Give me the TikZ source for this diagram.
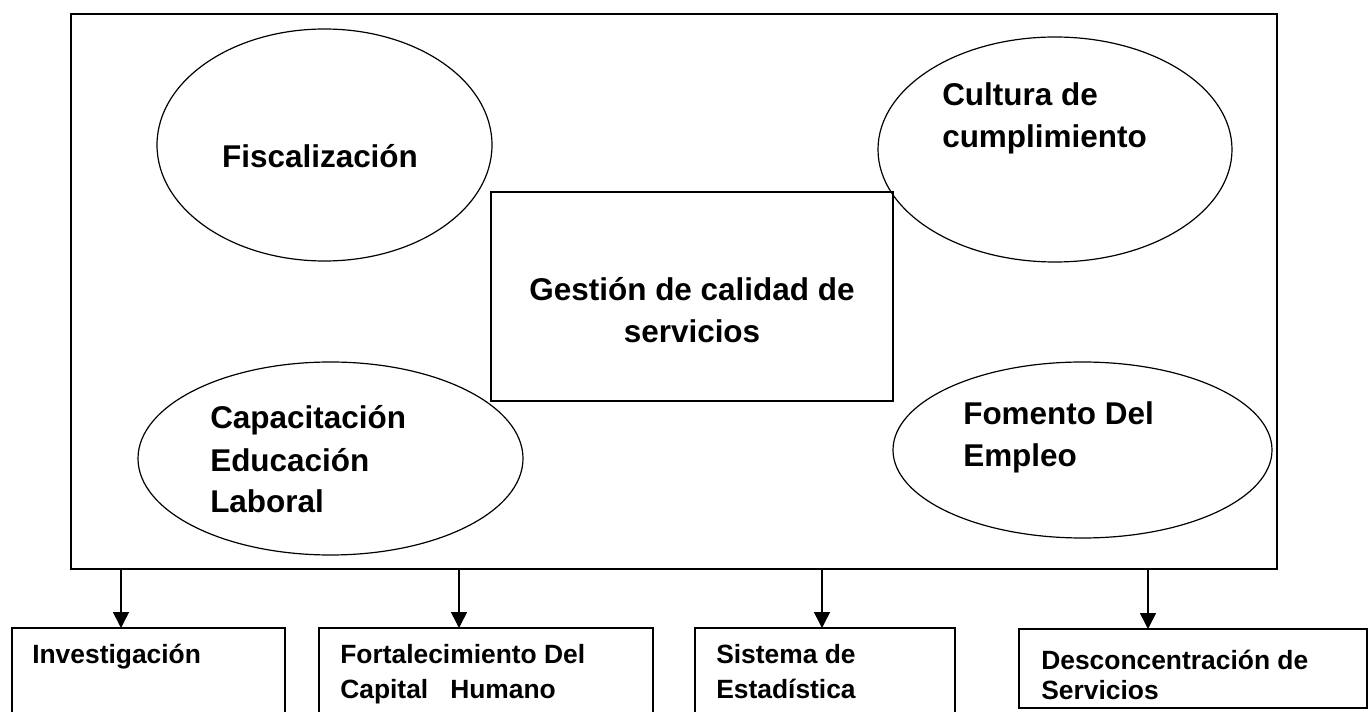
\documentclass[tikz,border=0pt]{standalone}
\usepackage{fontspec}
\setmainfont{Liberation Sans}
\usetikzlibrary{shapes.geometric,arrows.meta}

\begin{document}
\begin{tikzpicture}[
    x=0.75pt, y=-0.75pt,
    caja/.style={draw, line width=1.5pt, inner sep=0pt, outer sep=0pt},
    ovalo/.style={draw, ellipse, line width=0.9pt, inner sep=0pt, outer sep=0pt},
    grande/.style={inner sep=0pt, align=left, font=\fontsize{23.6}{31.5}\selectfont\bfseries},
    chico/.style={inner sep=0pt, align=left, font=\fontsize{19.8}{26.25}\selectfont\bfseries},
    flecha/.style={line width=1.2pt, -{Triangle[length=12pt,width=12pt]}}
]
\useasboundingbox (0,0) rectangle (1371,712);
% marco y figuras interiores
\node[caja, minimum width=904.5pt, minimum height=416.25pt] (marco) at (674,291.5) {};
\node[caja, minimum width=301.5pt, minimum height=156.75pt] (gest) at (692,296.5) {};
\node[ovalo, minimum width=251.25pt, minimum height=174pt] (fisc) at (324.5,145) {};
\node[ovalo, minimum width=265.5pt, minimum height=168.75pt] (cult) at (1055,149.5) {};
\node[ovalo, minimum width=288.75pt, minimum height=144.75pt] (capa) at (330.5,458.5) {};
\node[ovalo, minimum width=284.25pt, minimum height=132pt] (fome) at (1082.5,450) {};
% (anchor base = linea de base de la ultima linea)
\node[grande, anchor=base, align=center] (tgest) at (692,343) {Gestión de calidad de\\servicios};
\node[grande, anchor=base] (tfisc) at (320,168) {Fiscalización};
\node[grande, anchor=base west] (tcult) at (942,148) {Cultura de\\cumplimiento};
\node[grande, anchor=base west] (tcapa) at (210,513) {Capacitación\\Educación\\Laboral};
\node[grande, anchor=base west] (tfome) at (963,467) {Fomento Del\\Empleo};
% cajas de abajo
\node[caja, minimum width=204.75pt, minimum height=114pt] (inv) at (148.5,704) {};
\node[caja, minimum width=250.5pt, minimum height=114pt] (fort) at (486,704) {};
\node[caja, minimum width=195pt, minimum height=114pt] (sist) at (825,704) {};
\node[caja, minimum width=261pt, minimum height=59.25pt] (desc) at (1193,668.5) {};
\node[chico, anchor=base west] (tinv) at (32,663) {Investigación};
\node[chico, anchor=base west] (tfort) at (340,698) {Fortalecimiento Del\\Capital\ \ \ Humano};
\node[chico, anchor=base west] (tsist) at (716,698) {Sistema de\\Estadística};
\node[chico, anchor=base west, font=\fontsize{19.8}{22.5}\selectfont\bfseries] (tdesc) at (1041,699) {Desconcentración de\\Servicios};
% flechas
\foreach \n/\x in {inv/121, fort/459, sist/822, desc/1148}{
    \coordinate (p\n) at (\x,0);
    \draw[flecha] (p\n |- marco.south) -- (p\n |- \n.north);
}
\end{tikzpicture}
\end{document}
